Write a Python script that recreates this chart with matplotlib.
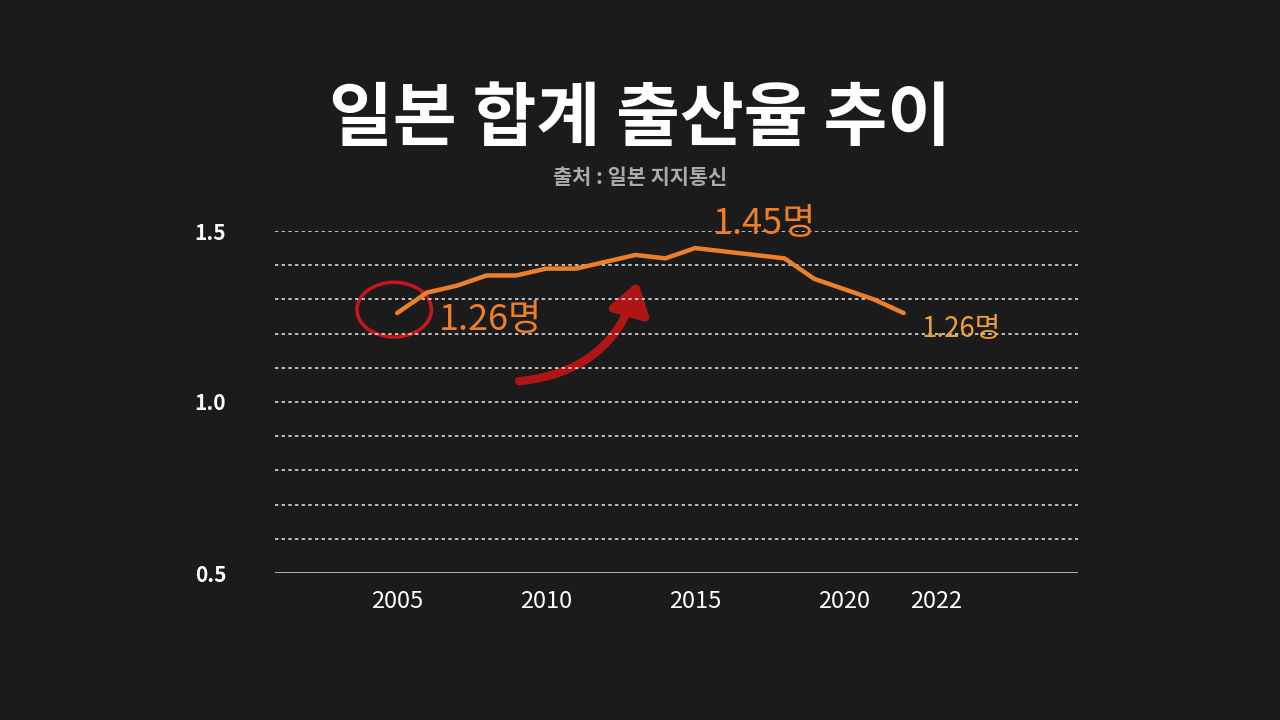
import matplotlib
matplotlib.use("Agg")
import matplotlib.pyplot as plt
import matplotlib.transforms as mtrans
from matplotlib.patches import Ellipse, FancyArrowPatch

plt.rcParams['font.family'] = ['Noto Sans CJK KR', 'DejaVu Sans']

years = [2005, 2006, 2007, 2008, 2009, 2010, 2011, 2012, 2013, 2014, 2015, 2016, 2017, 2018, 2019, 2020, 2021, 2022]
tfr = [1.26, 1.32, 1.34, 1.37, 1.37, 1.39, 1.39, 1.41, 1.43, 1.42, 1.45, 1.44, 1.43, 1.42, 1.36, 1.33, 1.30, 1.26]
xticks = [2005, 2010, 2015, 2020, 2022]
yticks = [0.5, 1.0, 1.5]

bg = '#1b1b1b'
fig = plt.figure(figsize=(12.8, 7.2), dpi=100, facecolor=bg)
ax = fig.add_axes([275/1280, 1-573/720, (1078-275)/1280, (573-231)/720])
ax.set_facecolor(bg)
ax.set_xlim(2000.9, 2027.85)
ax.set_ylim(0.5, 1.5)
for y in [0.6, 0.7, 0.8, 0.9, 1.0, 1.1, 1.2, 1.3, 1.4, 1.5]:
    ax.axhline(y, color='#dddddd', lw=1.2, ls=(0, (2, 2)))
ax.axhline(0.5, color='#cccccc', lw=1.2)
for s in ax.spines.values():
    s.set_visible(False)

ax.plot(years, tfr, color='#ec7f2a', lw=3.2, solid_capstyle='round')

ax.set_xticks(xticks)
ax.set_xticklabels([str(x) for x in xticks], color='white', fontsize=17)
ax.set_yticks(yticks)
ax.set_yticklabels([str(y) for y in yticks], color='white', fontsize=15, fontweight='bold')
ax.tick_params(length=0, pad=12)
for lbl in ax.get_yticklabels():
    lbl.set_x(-0.04)
last = ax.get_xticklabels()[-1]
last.set_transform(last.get_transform() + mtrans.ScaledTranslation(0.32, 0, fig.dpi_scale_trans))

ax.add_patch(Ellipse((2004.9, 1.27), 2.5, 0.16, fill=False, ec='#c8161d', lw=2.5, clip_on=False))
ax.add_patch(FancyArrowPatch((2009.0, 1.06), (2013.1, 1.36), connectionstyle='arc3,rad=0.35',
                             arrowstyle='-|>,head_length=12,head_width=8', color='#b01515', lw=6,
                             mutation_scale=1.5))
ax.text(2006.4, 1.21, '1.26명', color='#ec7f2a', fontsize=26, style='italic')
ax.text(2015.6, 1.49, '1.45명', color='#ec7f2a', fontsize=26, style='italic')
ax.text(2022.6, 1.19, '1.26명', color='#f0a030', fontsize=20, style='italic')

fig.text(0.5, 0.833, '일본 합계 출산율 추이', color='white', fontsize=50, fontweight='bold',
         ha='center', va='center')
fig.text(0.5, 0.745, '출처 : 일본 지지통신', color='#aaaaaa', fontsize=15, fontweight='bold', ha='center')

fig.savefig('out.png', dpi=100, facecolor=bg)
